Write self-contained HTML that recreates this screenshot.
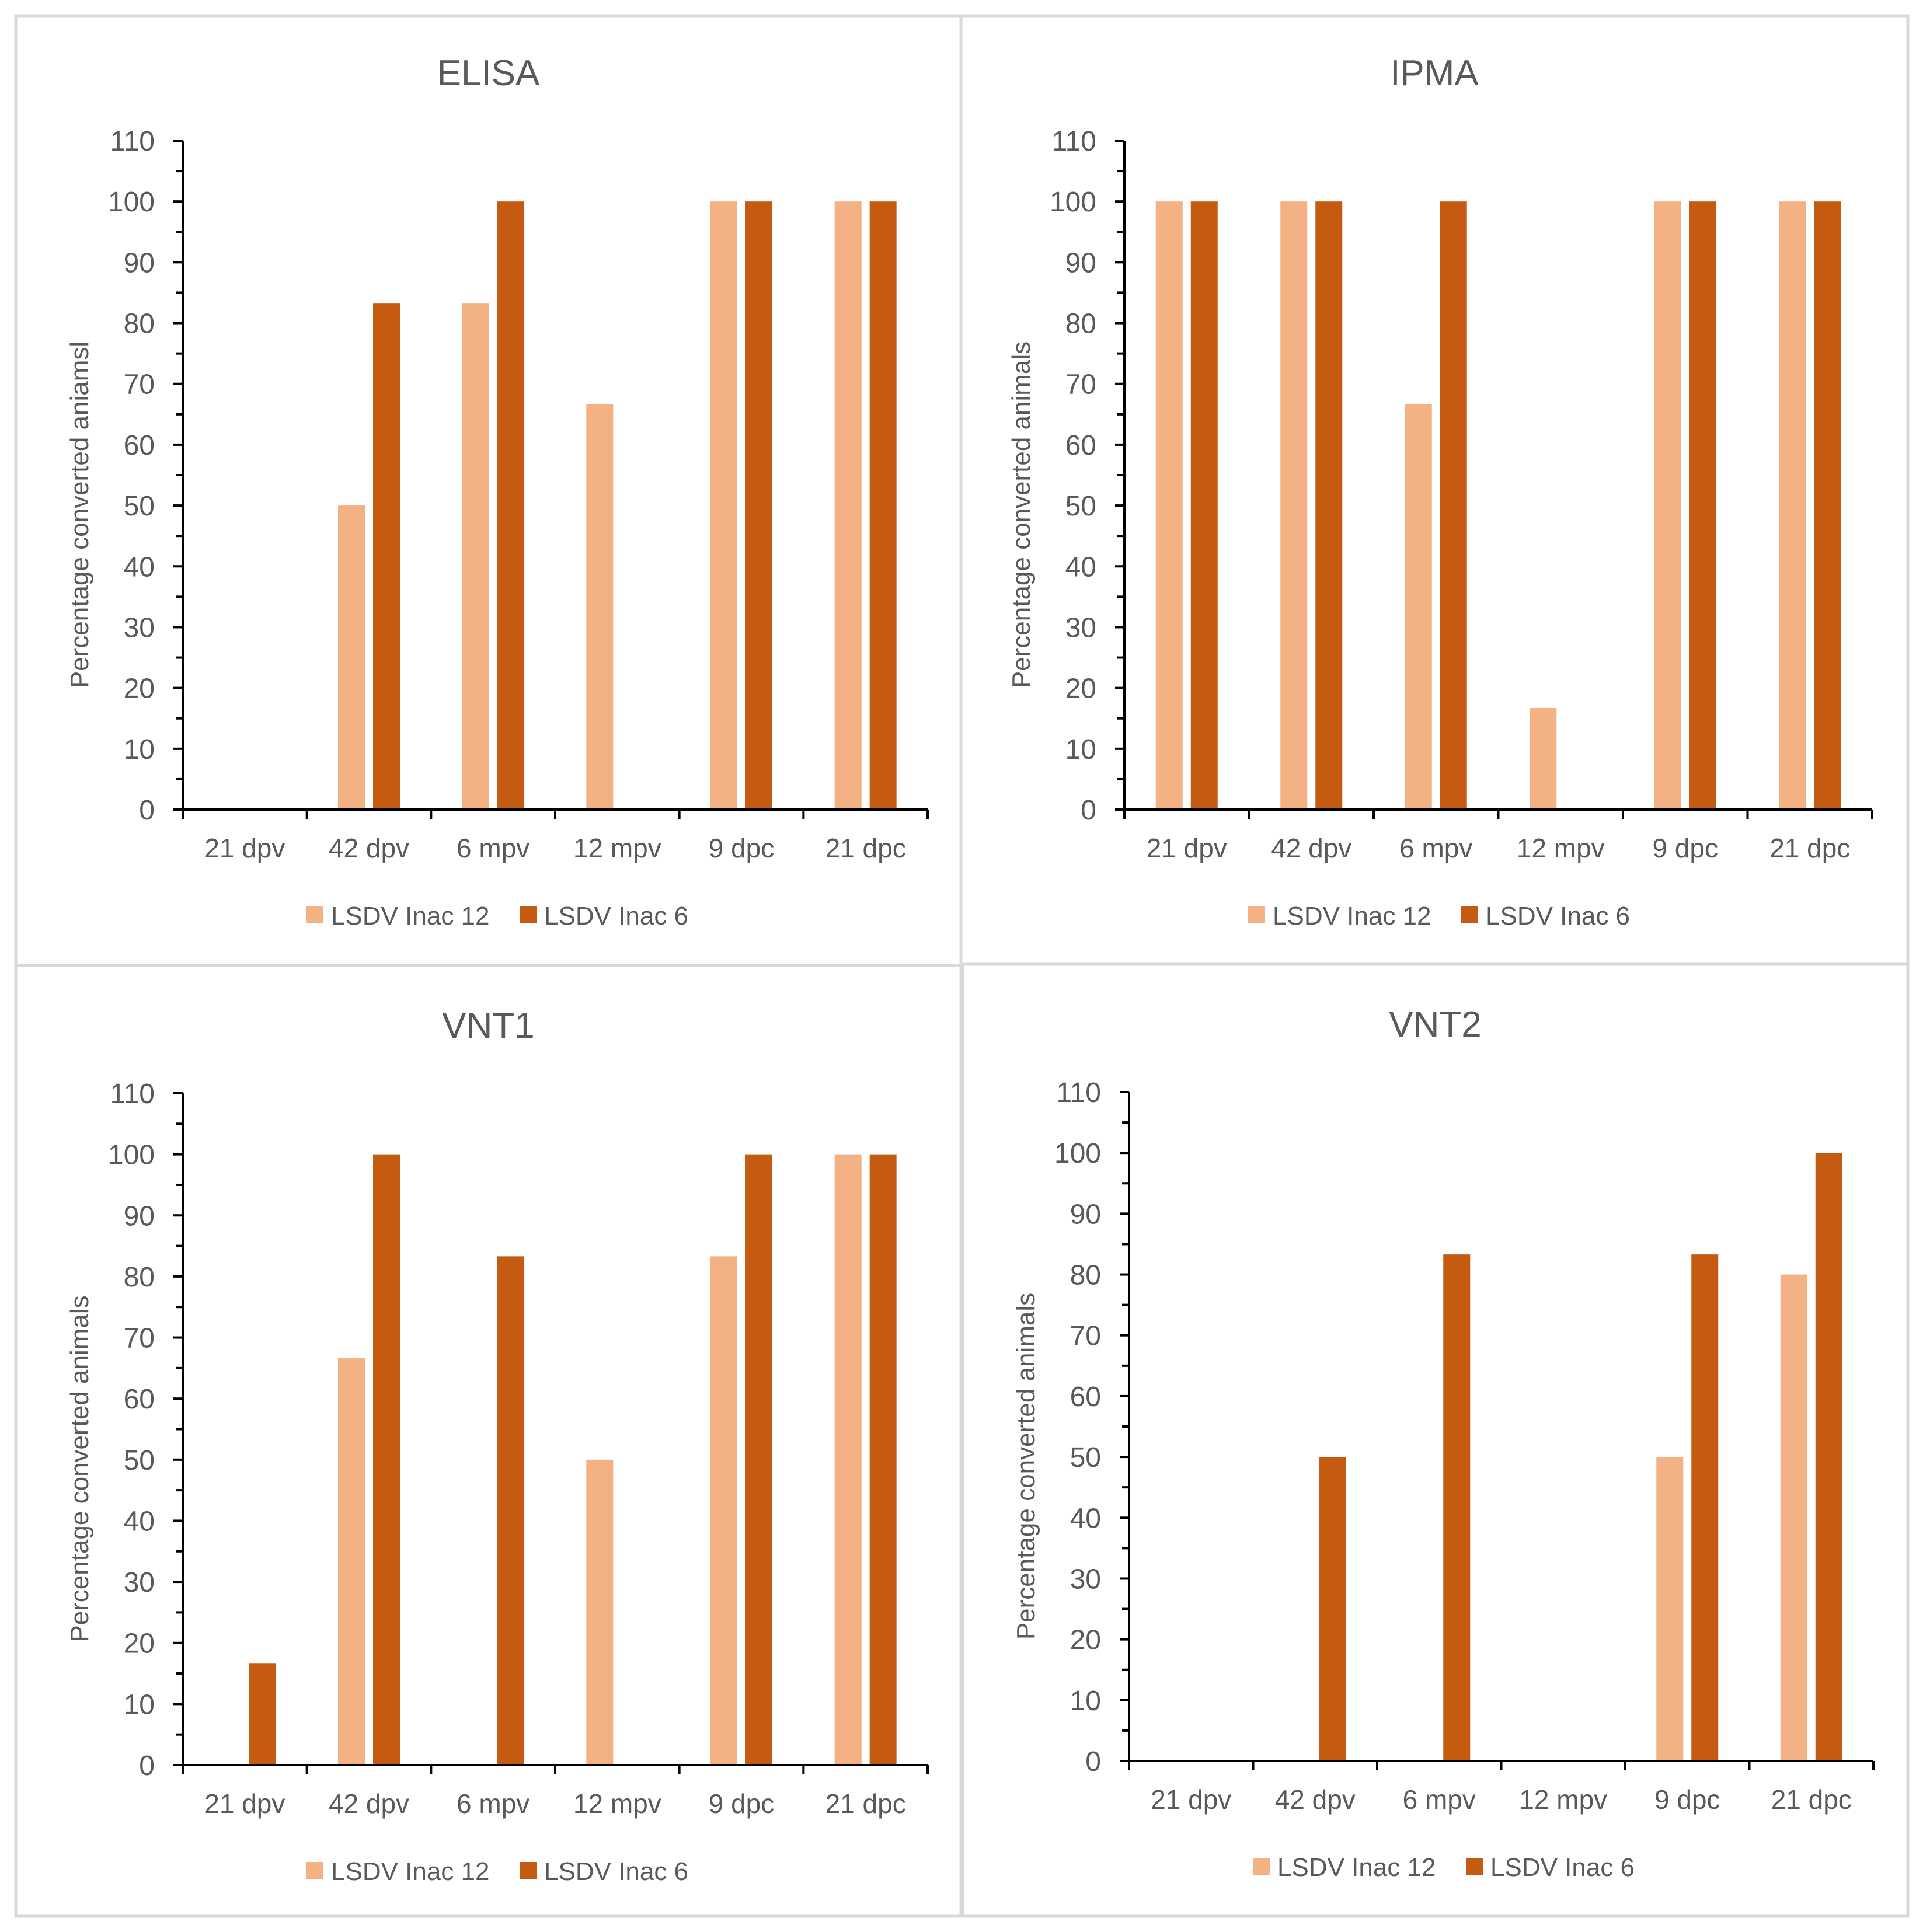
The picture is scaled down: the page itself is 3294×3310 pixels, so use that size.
<!DOCTYPE html>
<html><head><meta charset="utf-8"><style>
html,body{margin:0;padding:0;background:#fff}
svg{display:block}
text{font-family:"Liberation Sans",sans-serif;fill:#595959}
</style></head><body>
<svg id="chart" width="3294" height="3310" viewBox="0 0 3294 3310" xmlns="http://www.w3.org/2000/svg">
<rect x="0" y="0" width="3294" height="3310" fill="#fff"/>
</svg>
<script>
const categories = ["21 dpv","42 dpv","6 mpv","12 mpv","9 dpc","21 dpc"];
const seriesNames = ["LSDV Inac 12","LSDV Inac 6"];
const yTicks = [0,10,20,30,40,50,60,70,80,90,100,110];
const elisaLight = [0,50,83.3,66.7,100,100];
const elisaDark = [0,83.3,100,0,100,100];
const ipmaLight = [100,100,66.7,16.7,100,100];
const ipmaDark = [100,100,100,0,100,100];
const vnt1Light = [0,66.7,0,50,83.3,100];
const vnt1Dark = [16.7,100,83.3,0,100,100];
const vnt2Light = [0,0,0,0,50,80];
const vnt2Dark = [0,50,83.3,0,83.3,100];

const NS="http://www.w3.org/2000/svg";
const svg=document.getElementById('chart');
const COLORS=["#F4B183","#C55A11"];
function mk(tag,attrs,parent){const e=document.createElementNS(NS,tag);for(const k in attrs)e.setAttribute(k,attrs[k]);(parent||svg).appendChild(e);return e;}

const panels=[
 {name:"elisa",title:"ELISA",ylab:"Percentage converted aniamsl",light:elisaLight,dark:elisaDark,box:[27,27,1619,1627],ax:313,ar:1589,y0:1387,y110:241},
 {name:"ipma",title:"IPMA",ylab:"Percentage converted animals",light:ipmaLight,dark:ipmaDark,box:[1646,27,1622,1627],ax:1926,ar:3207,y0:1387,y110:241},
 {name:"vnt1",title:"VNT1",ylab:"Percentage converted animals",light:vnt1Light,dark:vnt1Dark,box:[27,1654,1619,1629],ax:313,ar:1589,y0:3024,y110:1873},
 {name:"vnt2",title:"VNT2",ylab:"Percentage converted animals",light:vnt2Light,dark:vnt2Dark,box:[1649,1652,1619,1631],ax:1934,ar:3209,y0:3017,y110:1871}
];

panels.forEach(p=>{
  const g=mk('g',{});
  
  
  const b=p.box;
  const r=mk('rect',{x:b[0],y:b[1],width:b[2],height:b[3],fill:"#fff",stroke:"#d9d9d9","stroke-width":5},g);
  
  
  const yScale=v=>p.y0-(v/110)*(p.y0-p.y110);
  const cw=(p.ar-p.ax)/categories.length;
  const xCenter=i=>p.ax+cw*(i+0.5);
  const pcx=b[0]+b[2]/2;
  const t=mk('text',{x:pcx,y:p.y110-95,"font-size":62,"text-anchor":"middle",fill:"#404040"},g);
  t.textContent=p.title;
  
  
  const bw=46, off=30;
  [p.light,p.dark].forEach((arr,si)=>{
    arr.forEach((v,i)=>{
      if(v<=0)return;
      const y=yScale(v);
      const rc=mk('rect',{x:xCenter(i)+(si?off:-off)-bw/2,y:y,width:bw,height:p.y0-y,fill:COLORS[si]},g);
      
      
    });
  });
  const ya=mk('g',{},g);
  
  
  mk('line',{x1:p.ax,y1:p.y110,x2:p.ax,y2:p.y0,stroke:"#000","stroke-width":4},ya);
  for(let v=0;v<=110;v+=5){
    const y=yScale(v);
    const major=v%10===0;
    mk('line',{x1:p.ax-(major?16:12),y1:y,x2:p.ax,y2:y,stroke:"#000","stroke-width":4},ya);
  }
  yTicks.forEach(v=>{
    const tl=mk('text',{x:p.ax-48,y:yScale(v)+17,"font-size":48,"text-anchor":"end"},ya);
    tl.textContent=v;
    
    
  });
  const yl=mk('text',{x:0,y:0,"font-size":44,"text-anchor":"middle",transform:`translate(${p.ax-162},${(p.y0+p.y110)/2+68}) rotate(-90)`},g);
  yl.textContent=p.ylab;
  
  
  const xa=mk('g',{},g);
  
  
  mk('line',{x1:p.ax-2,y1:p.y0,x2:p.ar,y2:p.y0,stroke:"#000","stroke-width":4},xa);
  for(let i=0;i<=categories.length;i++){
    const x=p.ax+cw*i;
    mk('line',{x1:x,y1:p.y0,x2:x,y2:p.y0+16,stroke:"#000","stroke-width":4},xa);
  }
  categories.forEach((c,i)=>{
    const xl=mk('text',{x:xCenter(i),y:p.y0+82,"font-size":46,"text-anchor":"middle"},xa);
    xl.textContent=c;
    
    
  });
  const lg=mk('g',{},g);
  
  
  const ly=p.y0+197;
  const lx0=p.ax+212, lx1=p.ax+577;
  [lx0,lx1].forEach((lx,si)=>{
    const e=mk('g',{},lg);
    
    
    mk('rect',{x:lx,y:ly-31,width:29,height:29,fill:COLORS[si]},e);
    const lt=mk('text',{x:lx+42,y:ly,"font-size":44},e);
    lt.textContent=seriesNames[si];
  });
});
</script>
</body></html>
